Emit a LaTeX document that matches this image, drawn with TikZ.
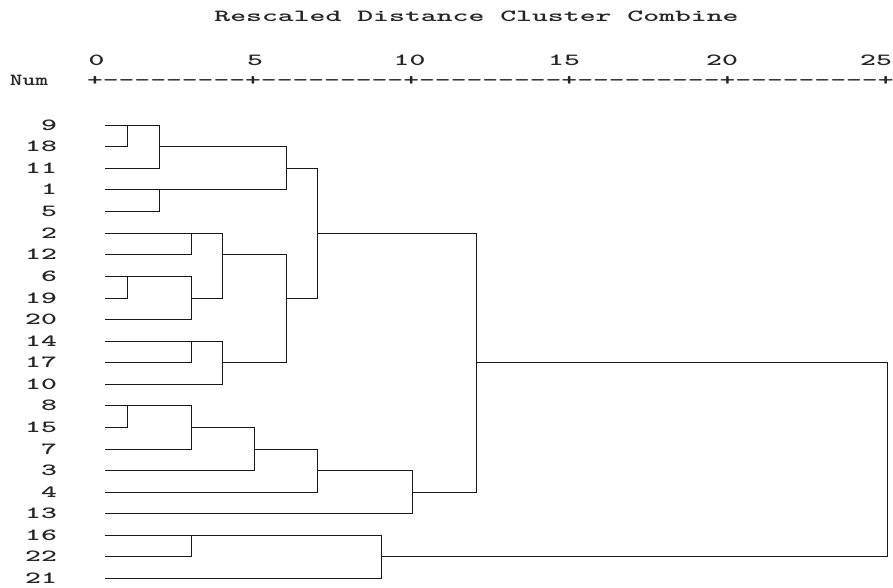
\documentclass[tikz,border=0pt]{standalone}
\usepackage{graphicx}
\newcommand\tx[1]{\scalebox{1.78}[1]{\fontsize{17}{17}\selectfont\ttfamily\bfseries #1}}
\newcommand\dd{\kern0pt-}
\newcommand\rulerseg{+\dd\dd\dd\dd\dd\dd\dd\dd\dd}
\def\rows{{125.5,146.5,168.5,189.5,211.5,233.5,254.5,276.5,298.5,319.5,341.5,362.5,384.5,405.5,427.5,449.5,470.5,492.5,513.5,535.5,556.5,578.5}}
\newcommand\merge[3]{\draw[link] (#2) -- (#2 -| #1) -- (#3 -| #1) -- (#3);}
\begin{document}
\begin{tikzpicture}[x=1pt,y=-1pt,
  txt/.style={inner sep=0pt,outer sep=0pt,text=black!85},
  lab/.style={txt,anchor=base east},
  link/.style={line width=1.6pt,draw=black!90,line join=miter}]
\useasboundingbox (0,0) rectangle (893,588);
\fill[white] (0,0) rectangle (893,588);
% title and axis
\node[txt,anchor=base] (title) at (476.5,22) {\tx{Rescaled Distance Cluster Combine}};
\node[txt,anchor=base] (t0) at (96.5,66) {\tx{0}};
\node[txt,anchor=base] (t5) at (255,66) {\tx{5}};
\node[txt,anchor=base] (t10) at (409.5,66) {\tx{10}};
\node[txt,anchor=base] (t15) at (564,66) {\tx{15}};
\node[txt,anchor=base] (t20) at (722,66) {\tx{20}};
\node[txt,anchor=base] (t25) at (876,66) {\tx{25}};
\node[txt,anchor=base] (num) at (29,86) {\scalebox{1.42}[1]{\fontsize{17}{17}\selectfont\ttfamily\bfseries Num}};
\node[txt,anchor=base west] (ruler) at (87,86) {\scalebox{1.772}[1]{\fontsize{17}{17}\selectfont\ttfamily\bfseries\rulerseg\rulerseg\rulerseg\rulerseg\rulerseg+}};
% leaves
\foreach \lab [count=\i from 0] in {9,18,11,1,5,2,12,6,19,20,14,17,10,8,15,7,3,4,13,16,22,21} {
  \pgfmathsetmacro\yy{\rows[\i]}
  \node[lab] (n\lab) at (57,\yy+5) {\tx{\lab}};
  \coordinate (l\lab) at (104.5,\yy);
}
% merge points
\coordinate (c1) at (127.5,{\rows[0]});
\coordinate (c2) at (159.5,{\rows[1]});
\coordinate (c3) at (159.5,{\rows[3]});
\coordinate (c4) at (286.5,{\rows[2]});
\coordinate (c5) at (191.5,{\rows[5]});
\coordinate (c6) at (127.5,{\rows[7]});
\coordinate (c7) at (191.5,{\rows[8]});
\coordinate (c8) at (222.5,{\rows[6]});
\coordinate (c9) at (191.5,{\rows[10]});
\coordinate (c10) at (222.5,{\rows[11]});
\coordinate (c11) at (286.5,{\rows[8]});
\coordinate (c12) at (317.5,{\rows[5]});
\coordinate (c13) at (127.5,{\rows[13]});
\coordinate (c14) at (191.5,{\rows[14]});
\coordinate (c15) at (254.5,{\rows[15]});
\coordinate (c16) at (317.5,{\rows[16]});
\coordinate (c17) at (412.5,{\rows[17]});
\coordinate (c18) at (476.5,{\rows[11]});
\coordinate (c19) at (191.5,{\rows[19]});
\coordinate (c20) at (381.5,{\rows[20]});
\coordinate (c21) at (887.5,{\rows[15]});
% links
\merge{c1}{l9}{l18}
\merge{c2}{c1}{l11}
\merge{c3}{l1}{l5}
\merge{c4}{c2}{c3}
\merge{c5}{l2}{l12}
\merge{c6}{l6}{l19}
\merge{c7}{c6}{l20}
\merge{c8}{c5}{c7}
\merge{c9}{l14}{l17}
\merge{c10}{c9}{l10}
\merge{c11}{c8}{c10}
\merge{c12}{c4}{c11}
\merge{c13}{l8}{l15}
\merge{c14}{c13}{l7}
\merge{c15}{c14}{l3}
\merge{c16}{c15}{l4}
\merge{c17}{c16}{l13}
\merge{c18}{c12}{c17}
\merge{c19}{l16}{l22}
\merge{c20}{c19}{l21}
\merge{c21}{c18}{c20}
\end{tikzpicture}
\end{document}
